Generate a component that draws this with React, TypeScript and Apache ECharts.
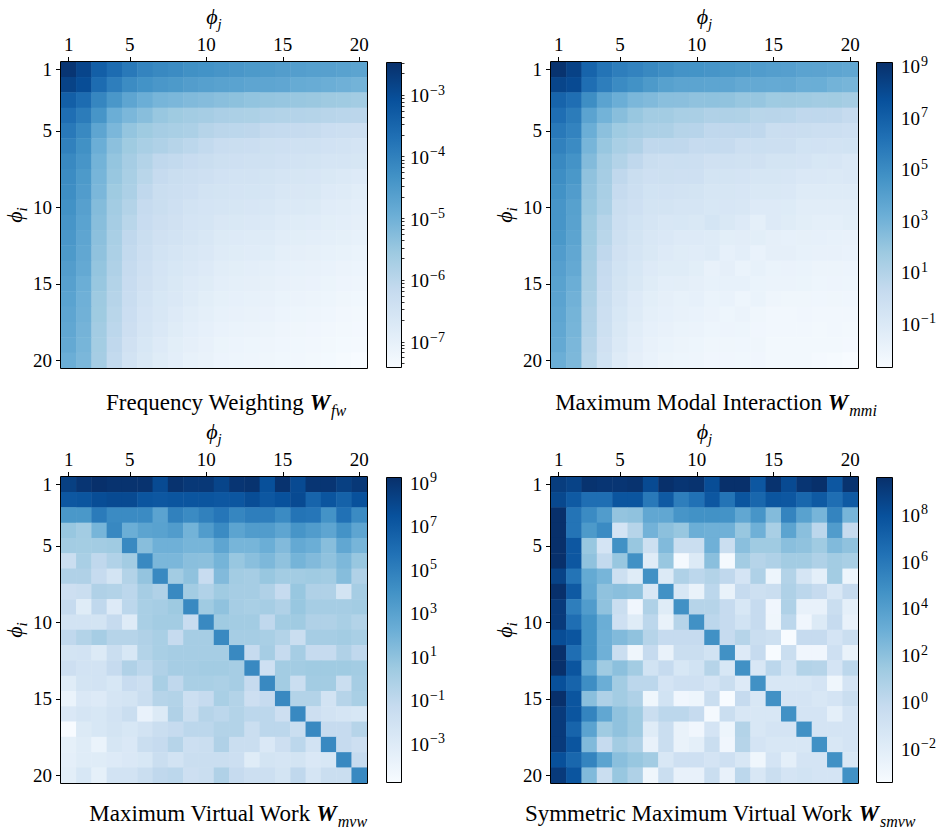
import React, { useEffect, useRef } from "react";
import * as echarts from "echarts";

// Mode indices (tick labels of both axes)
const modeLabels = ["1","2","3","4","5","6","7","8","9","10","11","12","13","14","15","16","17","18","19","20"];
const shownTickIdx = [0, 4, 9, 14, 19];

// log10 of the weights, row i (phi_i) by column j (phi_j)
const fwLog10 = [
  [-2.61,-2.91,-3.40,-3.65,-3.90,-4.10,-4.20,-4.25,-4.35,-4.39,-4.44,-4.49,-4.54,-4.57,-4.62,-4.64,-4.67,-4.69,-4.72,-4.77],
  [-2.86,-3.06,-3.65,-4.00,-4.25,-4.39,-4.49,-4.54,-4.62,-4.67,-4.72,-4.74,-4.79,-4.80,-4.82,-4.92,-4.94,-4.99,-5.04,-5.09],
  [-3.40,-3.65,-4.15,-4.49,-4.79,-4.99,-5.14,-5.19,-5.26,-5.31,-5.37,-5.40,-5.47,-5.50,-5.53,-5.55,-5.57,-5.62,-5.64,-5.68],
  [-3.70,-3.95,-4.44,-4.99,-5.19,-5.34,-5.54,-5.63,-5.68,-5.73,-5.81,-5.83,-5.85,-5.91,-5.93,-5.95,-5.97,-6.02,-6.04,-6.06],
  [-3.90,-4.20,-4.79,-5.19,-5.49,-5.63,-5.73,-5.78,-5.83,-5.98,-6.06,-6.08,-6.10,-6.20,-6.22,-6.24,-6.26,-6.36,-6.38,-6.40],
  [-4.05,-4.35,-4.99,-5.39,-5.63,-5.78,-5.88,-5.98,-6.08,-6.18,-6.31,-6.33,-6.35,-6.41,-6.43,-6.45,-6.47,-6.52,-6.54,-6.58],
  [-4.20,-4.44,-5.09,-5.49,-5.73,-5.93,-6.13,-6.18,-6.28,-6.33,-6.41,-6.43,-6.45,-6.47,-6.52,-6.54,-6.56,-6.61,-6.63,-6.65],
  [-4.25,-4.54,-5.14,-5.54,-5.78,-6.03,-6.23,-6.33,-6.38,-6.43,-6.51,-6.53,-6.55,-6.57,-6.62,-6.64,-6.66,-6.73,-6.78,-6.83],
  [-4.30,-4.59,-5.19,-5.63,-5.83,-6.13,-6.33,-6.38,-6.43,-6.53,-6.56,-6.58,-6.60,-6.62,-6.69,-6.71,-6.73,-6.82,-6.85,-6.92],
  [-4.37,-4.69,-5.29,-5.68,-5.93,-6.23,-6.33,-6.43,-6.53,-6.58,-6.63,-6.65,-6.67,-6.69,-6.76,-6.78,-6.80,-6.90,-6.93,-6.97],
  [-4.44,-4.74,-5.34,-5.73,-6.03,-6.28,-6.40,-6.48,-6.58,-6.63,-6.71,-6.73,-6.75,-6.77,-6.85,-6.87,-6.89,-6.95,-6.98,-7.02],
  [-4.49,-4.79,-5.39,-5.78,-6.13,-6.33,-6.48,-6.55,-6.63,-6.70,-6.80,-6.82,-6.84,-6.86,-6.93,-6.95,-6.97,-7.00,-7.03,-7.07],
  [-4.54,-4.84,-5.44,-5.83,-6.18,-6.38,-6.53,-6.63,-6.70,-6.75,-6.85,-6.87,-6.89,-6.91,-7.00,-7.02,-7.04,-7.08,-7.11,-7.15],
  [-4.62,-4.89,-5.49,-5.88,-6.23,-6.43,-6.58,-6.68,-6.75,-6.83,-6.93,-6.95,-6.97,-6.99,-7.05,-7.07,-7.09,-7.13,-7.16,-7.20],
  [-4.69,-4.99,-5.54,-5.93,-6.28,-6.48,-6.63,-6.73,-6.83,-6.87,-6.98,-7.00,-7.02,-7.04,-7.10,-7.12,-7.14,-7.18,-7.21,-7.25],
  [-4.74,-5.04,-5.61,-5.98,-6.30,-6.53,-6.68,-6.75,-6.85,-6.95,-7.03,-7.05,-7.07,-7.09,-7.15,-7.17,-7.19,-7.23,-7.26,-7.30],
  [-4.79,-5.06,-5.63,-6.03,-6.35,-6.58,-6.70,-6.83,-6.92,-7.00,-7.08,-7.10,-7.12,-7.14,-7.20,-7.22,-7.24,-7.28,-7.31,-7.35],
  [-4.84,-5.11,-5.68,-6.08,-6.40,-6.63,-6.75,-6.87,-6.97,-7.05,-7.13,-7.15,-7.17,-7.19,-7.25,-7.27,-7.29,-7.31,-7.34,-7.37],
  [-4.89,-5.14,-5.71,-6.13,-6.48,-6.68,-6.83,-6.95,-7.02,-7.10,-7.18,-7.20,-7.22,-7.24,-7.28,-7.30,-7.32,-7.35,-7.38,-7.40],
  [-4.99,-5.19,-5.73,-6.18,-6.53,-6.73,-6.87,-6.97,-7.07,-7.12,-7.20,-7.22,-7.24,-7.26,-7.30,-7.32,-7.34,-7.38,-7.42,-7.47],
];

const mmiLog10 = [
  [8.92,8.21,6.66,5.95,5.48,5.24,5.00,4.76,4.53,4.50,4.41,4.29,4.17,4.05,3.93,3.87,3.69,3.66,3.58,3.46],
  [8.09,7.85,6.19,5.48,4.88,4.59,4.17,3.81,3.63,3.63,3.60,3.58,3.34,3.36,3.30,3.34,3.10,3.12,2.86,2.74],
  [6.66,6.19,4.76,3.69,3.10,2.62,2.45,2.21,2.18,2.03,2.05,2.00,1.79,1.81,1.56,1.58,1.54,1.44,1.46,1.32],
  [6.19,5.59,3.69,2.86,2.27,1.79,1.44,1.42,1.20,1.18,0.96,0.98,0.94,0.61,0.63,0.59,0.37,0.39,0.35,0.13],
  [5.71,5.24,3.10,2.15,1.56,1.32,1.08,1.06,0.72,0.70,0.37,0.35,0.39,0.36,-0.11,-0.09,-0.13,-0.23,-0.25,-0.35],
  [5.36,4.88,2.74,1.79,1.20,0.96,0.37,0.39,0.35,0.13,0.15,0.11,-0.23,-0.21,-0.25,-0.23,-0.58,-0.56,-0.60,-0.58],
  [5.00,4.53,2.39,1.44,0.84,0.37,-0.11,-0.23,-0.21,-0.25,-0.46,-0.44,-0.48,-0.46,-0.70,-0.68,-0.72,-0.94,-0.92,-1.12],
  [4.76,4.29,2.03,1.32,0.37,-0.11,-0.35,-0.33,-0.37,-0.35,-0.70,-0.68,-0.72,-0.88,-0.86,-0.90,-1.12,-1.10,-1.14,-1.12],
  [4.59,4.05,1.91,1.20,0.13,-0.23,-0.58,-0.56,-0.60,-0.70,-0.88,-0.86,-0.90,-1.06,-1.04,-1.08,-1.35,-1.33,-1.37,-1.35],
  [4.41,3.81,1.79,1.08,-0.11,-0.35,-0.70,-0.68,-0.82,-0.80,-0.94,-0.92,-0.96,-1.30,-1.28,-1.32,-1.53,-1.51,-1.55,-1.53],
  [4.41,3.75,1.62,0.72,-0.23,-0.58,-0.82,-1.00,-0.94,-1.06,-0.76,-1.06,-1.30,-1.71,-1.30,-1.41,-1.59,-1.71,-1.71,-1.59],
  [4.29,3.63,1.56,0.61,-0.29,-0.70,-1.00,-1.12,-1.30,-1.28,-1.35,-1.59,-1.57,-1.61,-1.77,-1.83,-1.81,-1.85,-1.89,-1.95],
  [4.05,3.46,1.44,0.37,-0.46,-0.82,-1.06,-1.30,-1.41,-1.47,-1.35,-1.83,-1.65,-2.01,-1.77,-1.77,-1.89,-1.95,-1.95,-2.01],
  [3.87,3.34,1.32,0.13,-0.58,-0.94,-1.30,-1.41,-1.43,-1.59,-1.95,-1.77,-2.07,-1.89,-2.07,-2.05,-2.09,-2.19,-2.17,-2.21],
  [3.75,3.10,1.26,0.01,-0.70,-1.06,-1.41,-1.65,-1.63,-1.77,-1.89,-1.87,-1.91,-2.07,-2.13,-2.11,-2.15,-2.25,-2.23,-2.27],
  [3.69,2.92,1.08,-0.11,-0.82,-1.30,-1.59,-1.77,-1.89,-1.83,-2.07,-2.01,-2.25,-2.07,-2.31,-2.36,-2.34,-2.38,-2.36,-2.38],
  [3.58,2.80,0.96,-0.23,-0.94,-1.35,-1.71,-1.83,-1.95,-2.01,-2.13,-2.25,-2.13,-2.36,-2.48,-2.46,-2.42,-2.48,-2.50,-2.48],
  [3.46,2.74,0.90,-0.29,-1.06,-1.53,-1.83,-1.95,-2.07,-2.13,-2.25,-2.23,-2.27,-2.42,-2.48,-2.46,-2.50,-2.54,-2.48,-2.54],
  [3.34,2.62,0.72,-0.46,-1.18,-1.65,-1.95,-2.07,-2.19,-2.25,-2.36,-2.34,-2.38,-2.36,-2.54,-2.52,-2.56,-2.54,-2.52,-2.60],
  [3.10,2.57,0.61,-0.58,-1.35,-1.77,-2.01,-2.19,-2.25,-2.31,-2.42,-2.40,-2.44,-2.42,-2.54,-2.52,-2.56,-2.66,-2.72,-2.84],
];

const mvwLog10 = [
  [8.28,8.84,9.12,8.98,8.98,8.98,7.72,8.98,8.70,8.70,8.00,8.84,8.98,7.43,8.98,7.72,8.84,8.84,8.28,8.70],
  [7.01,7.15,7.57,7.72,7.72,7.15,7.01,7.15,7.15,7.15,7.01,7.08,7.57,7.01,7.36,7.72,6.31,7.15,6.45,7.36],
  [3.50,3.50,5.05,4.20,4.20,4.20,2.80,4.76,4.20,4.76,5.33,4.48,4.91,4.91,4.20,5.47,5.33,3.78,5.61,4.20],
  [0.55,0.13,1.67,4.40,2.10,2.73,2.87,3.22,1.81,3.22,4.20,2.73,3.22,3.22,2.66,3.64,3.22,2.66,3.78,2.66],
  [0.13,0.06,0.13,0.27,4.34,1.11,1.95,1.95,1.67,1.67,2.66,1.67,1.67,2.10,1.32,2.38,2.10,1.11,2.52,1.67],
  [-1.70,-0.15,-1.14,-0.50,0.13,4.34,1.53,1.53,1.04,0.97,1.74,0.55,1.04,1.46,0.83,1.74,1.32,0.83,1.46,0.55],
  [-0.43,-0.43,-1.42,-2.40,-0.57,0.69,4.34,0.13,0.83,-1.56,1.32,0.13,-0.01,0.55,0.13,0.13,0.27,0.13,1.18,-0.43],
  [-1.91,-1.70,-0.43,-0.57,-1.00,-0.01,-0.43,4.34,0.13,-0.50,0.27,-0.01,-0.01,-0.43,-1.42,0.55,-0.43,-0.43,-2.40,-0.01],
  [-1.42,-3.24,-1.14,-3.10,-1.00,-0.15,-0.01,0.34,4.34,0.27,0.83,-0.01,-0.15,-0.01,-0.43,0.55,-0.01,-0.01,-0.01,0.13],
  [-2.26,-2.26,-2.40,-1.42,-3.17,-0.15,0.13,0.13,-1.56,4.34,0.27,0.13,0.13,-1.14,0.13,0.27,-0.43,-0.43,-0.15,-0.57],
  [-1.14,-0.57,-0.01,-0.71,-0.71,-0.43,-0.15,-1.42,-0.01,-0.01,4.34,-0.01,-0.01,-0.15,-0.57,-1.70,-0.01,-0.01,0.13,-0.15],
  [-2.40,-2.26,-3.03,-1.70,-2.68,-0.57,-0.15,-0.01,-0.01,-0.01,-0.01,4.34,-1.42,-0.01,-1.42,-0.01,-1.42,-1.42,-0.43,-1.14],
  [-1.91,-2.26,-2.26,-1.42,-0.43,-1.00,-0.43,-0.01,-0.01,0.13,0.13,-0.01,4.34,-1.98,0.13,0.13,0.27,0.27,0.27,0.13],
  [-3.24,-2.40,-2.26,-2.68,-1.56,-1.84,-0.15,-1.14,-0.15,-0.15,-0.29,-0.01,-1.42,4.34,0.13,-1.70,0.13,0.13,-1.70,-0.01],
  [-4.02,-2.89,-3.10,-2.54,-2.40,-1.70,-0.71,-0.57,-1.84,-1.42,-0.15,-0.57,-1.91,-1.42,4.34,-0.57,-0.57,-2.26,-0.71,-0.15],
  [-2.89,-2.54,-2.68,-2.26,-1.70,-3.95,-3.03,-0.43,-1.70,-0.71,-1.00,-0.57,-1.00,-1.00,-1.91,4.34,-1.91,-2.26,-2.54,-2.68],
  [-4.93,-3.03,-2.68,-2.40,-2.68,-2.26,-1.70,-1.42,-1.00,-1.00,-0.57,-0.57,-1.70,-1.00,-1.00,-1.70,4.34,-1.42,-1.42,-0.71],
  [-3.67,-3.24,-4.02,-2.61,-2.89,-1.70,-1.42,-0.71,-1.84,-1.70,-0.43,-1.70,-1.70,-2.89,-1.91,-1.00,-2.26,4.34,-1.42,-1.91],
  [-3.60,-3.24,-3.24,-3.10,-2.89,-2.68,-1.70,-2.26,-1.70,-1.70,-1.70,-1.84,-3.24,-2.40,-2.54,-2.40,-2.89,-2.68,4.34,-1.42],
  [-3.45,-2.68,-3.67,-2.26,-2.26,-1.70,-1.14,-1.00,-1.91,-1.70,-0.43,-1.42,-1.84,-1.84,-2.40,-1.14,-2.54,-1.70,-1.70,4.34],
];

const smvwLog10 = [
  [8.84,8.57,9.36,9.23,9.23,9.36,8.18,9.49,9.23,9.36,8.05,9.49,9.49,7.53,9.36,8.18,9.23,9.49,7.53,9.36],
  [8.31,7.40,6.35,6.35,7.66,7.66,5.83,7.40,5.57,6.22,7.53,6.09,7.66,6.74,7.66,7.53,6.74,7.40,6.35,7.40],
  [9.49,6.09,4.91,3.99,1.64,1.77,3.34,3.34,4.39,4.59,4.59,4.52,3.34,4.39,2.17,5.30,3.67,2.56,5.30,2.56],
  [9.49,6.09,4.13,4.91,-1.24,0.33,2.69,1.90,1.51,2.95,2.82,2.82,1.51,2.82,0.86,3.54,1.97,0.07,3.99,-0.32],
  [9.49,7.53,1.51,-1.24,4.65,1.51,-0.78,2.23,-0.58,-0.58,2.82,-0.58,1.97,1.25,1.25,1.97,1.77,1.25,2.23,1.77],
  [9.49,7.53,1.77,-0.19,1.51,4.65,-2.02,1.51,-3.39,-1.82,1.97,-3.39,1.12,0.33,0.60,1.12,1.12,0.60,1.12,0.86],
  [8.57,6.09,3.21,2.56,-0.78,-2.02,4.65,-1.82,0.60,0.07,0.46,-0.06,-1.24,0.60,-2.94,0.46,-1.37,-2.35,1.12,-2.94],
  [9.49,7.40,3.34,1.77,1.97,1.77,-1.56,4.65,-1.50,-2.67,0.07,-2.67,-0.32,-0.78,-0.58,0.60,0.07,-0.32,-1.56,-0.32],
  [8.97,5.57,3.99,1.77,-0.58,-3.13,0.60,-2.02,4.65,0.33,0.33,-0.32,-1.50,-0.32,-3.13,0.60,-2.61,-2.61,-0.58,-2.35],
  [8.97,6.35,4.59,2.95,-0.84,-2.02,0.07,-2.67,0.33,4.65,0.07,-0.32,-1.10,-0.32,-3.07,0.07,-3.13,-1.82,-0.32,-2.61],
  [8.05,7.66,4.59,2.82,2.23,1.77,0.33,-0.32,-0.32,-0.32,4.65,-0.32,0.33,-0.58,-0.78,-3.59,-0.32,-0.32,-1.24,-0.58],
  [9.49,6.35,4.59,2.82,-0.58,-3.07,-0.32,-2.67,-0.58,-0.58,-1.10,4.65,-1.89,-0.32,-3.59,-0.58,-3.13,-3.13,-0.84,-2.67],
  [9.49,7.66,3.34,1.25,1.90,1.12,-1.10,-0.32,-1.50,-1.10,0.33,-1.50,4.65,-1.56,0.07,-1.10,0.46,0.33,-1.24,0.07],
  [7.92,6.87,4.78,2.95,1.12,0.07,0.07,-1.24,-0.84,-0.84,-1.24,-0.58,-1.89,4.65,-1.56,-1.56,-1.56,-1.24,-3.07,-1.24],
  [9.49,7.66,1.97,0.60,1.12,0.60,-3.07,-1.10,-3.13,-2.94,-0.58,-3.59,-0.32,-1.56,4.65,-1.24,-1.24,-1.56,-1.24,-0.58],
  [8.97,7.66,5.30,3.34,1.77,1.25,-0.58,0.07,0.07,-0.32,-3.39,-0.58,-1.56,-1.56,-1.56,4.65,-1.24,-1.24,-2.35,-1.24],
  [8.97,6.87,3.60,1.25,1.77,1.25,-2.02,-0.58,-2.67,-3.13,-1.24,-2.94,0.46,-1.56,-1.24,-1.24,4.65,-1.24,-1.24,-1.24],
  [8.97,7.66,2.23,-0.32,1.12,0.60,-2.61,-0.58,-2.67,-2.35,-0.58,-3.13,0.33,-1.24,-1.56,-1.56,-1.56,4.65,-1.56,-1.24],
  [7.92,6.74,5.30,3.54,1.97,1.51,1.12,-1.56,-0.84,-0.84,-1.24,-0.84,-1.56,-3.07,-1.24,-2.35,-1.24,-1.24,4.65,-1.56],
  [8.97,7.66,2.23,-0.58,1.51,0.60,-3.07,-0.58,-2.61,-2.61,-0.58,-2.61,0.07,-1.56,-0.58,-1.24,-1.10,-1.24,-1.24,4.65],
];

// Colour-scale limits (log10) and colour-bar tick exponents
const fwRange = [-7.47, -2.51];
const mmiRange = [-2.84, 9.04];
const mvwRange = [-4.93, 9.12];
const smvwRange = [-3.59, 9.49];
const fwTicks = [-7, -6, -5, -4, -3];
const mmiTicks = [-1, 1, 3, 5, 7, 9];
const mvwTicks = [-3, -1, 1, 3, 5, 7, 9];
const smvwTicks = [-2, 0, 2, 4, 6, 8];

const titleMain = ["Frequency Weighting ", "Maximum Modal Interaction ", "Maximum Virtual Work ", "Symmetric Maximum Virtual Work "];
const titleSub = ["fw", "mmi", "mvw", "smvw"];

const BLUES = ["#f7fbff", "#deebf7", "#c6dbef", "#9ecae1", "#6baed6", "#4292c6", "#2171b5", "#08519c", "#08306b"];
const FONT = "'Liberation Serif', 'DejaVu Serif', serif";

export default function App() {
  const ref = useRef<HTMLDivElement>(null);

  useEffect(() => {
    if (!ref.current) return;
    const chart = echarts.init(ref.current, undefined, { renderer: "svg" });

    const matrices = [fwLog10, mmiLog10, mvwLog10, smvwLog10];
    const ranges = [fwRange, mmiRange, mvwRange, smvwRange];
    const ticks = [fwTicks, mmiTicks, mvwTicks, smvwTicks];
    const layout = [
      { left: 61, top: 62, w: 306, cb: 386, cbw: 16, tx: 226, ty: 403 },
      { left: 551, top: 62, w: 307, cb: 876, cbw: 17, tx: 716, ty: 403 },
      { left: 61, top: 477, w: 306, cb: 386, cbw: 16, tx: 228, ty: 814 },
      { left: 551, top: 477, w: 307, cb: 876, cbw: 17, tx: 720, ty: 814 },
    ];
    const H = 306;

    const grid: any[] = [];
    const xAxis: any[] = [];
    const yAxis: any[] = [];
    const series: any[] = [];
    const visualMap: any[] = [];
    const graphic: any[] = [];

    const showIdx = (i: number) => shownTickIdx.indexOf(i) >= 0;
    const supFmt = (v: number) => {
      const e = Math.round(v);
      return `{b|10}{s|${e < 0 ? "\u2212" : ""}${Math.abs(e)}}`;
    };
    const supRich = {
      b: { fontFamily: FONT, fontSize: 19, color: "#000", verticalAlign: "bottom", lineHeight: 26 },
      s: { fontFamily: FONT, fontSize: 14, color: "#000", verticalAlign: "bottom", lineHeight: 26, padding: [0, 0, 8, 1] },
    };
    const nameRich = {
      p: { fontFamily: FONT, fontStyle: "italic", fontSize: 22, color: "#000", verticalAlign: "bottom", lineHeight: 26, padding: [0, 0, 4, 0] },
      s: { fontFamily: FONT, fontStyle: "italic", fontSize: 15, color: "#000", verticalAlign: "bottom", lineHeight: 26 },
    };

    layout.forEach((L, p) => {
      // heatmap grid
      grid.push({ left: L.left, top: L.top, width: L.w, height: H, containLabel: false });
      const gi = grid.length - 1;
      xAxis.push({
        type: "category", gridIndex: gi, position: "top", data: modeLabels,
        axisLine: { show: false },
        axisTick: { show: true, alignWithLabel: true, interval: (i: number) => showIdx(i), length: 5, lineStyle: { color: "#000", width: 1 } },
        axisLabel: { interval: (i: number) => showIdx(i), margin: 8, fontFamily: FONT, fontSize: 19, color: "#000" },
        splitLine: { show: false },
        name: "{p|\u03D5}{s|j}", nameLocation: "middle", nameGap: 31,
        nameTextStyle: { rich: nameRich },
      });
      yAxis.push({
        type: "category", gridIndex: gi, position: "left", inverse: true, data: modeLabels,
        axisLine: { show: false },
        axisTick: { show: true, alignWithLabel: true, interval: (i: number) => showIdx(i), length: 5, lineStyle: { color: "#000", width: 1 } },
        axisLabel: { interval: (i: number) => showIdx(i), margin: 9, fontFamily: FONT, fontSize: 19, color: "#000" },
        splitLine: { show: false },
        name: "{p|\u03D5}{s|i}", nameLocation: "middle", nameGap: 30, nameRotate: 90,
        nameTextStyle: { rich: nameRich },
      });
      const data: number[][] = [];
      matrices[p].forEach((row, i) => row.forEach((v, j) => data.push([j, i, v])));
      series.push({
        type: "heatmap", xAxisIndex: xAxis.length - 1, yAxisIndex: yAxis.length - 1,
        data, silent: true, itemStyle: { borderWidth: 0 }, emphasis: { disabled: true },
      });
      visualMap.push({
        type: "continuous", show: false, seriesIndex: series.length - 1, dimension: 2,
        min: ranges[p][0], max: ranges[p][1], inRange: { color: BLUES },
      });

      // colour-bar grid with log10 axis
      grid.push({ left: L.cb, top: L.top, width: L.cbw, height: H, containLabel: false });
      const ci = grid.length - 1;
      xAxis.push({ type: "value", gridIndex: ci, show: false, min: 0, max: 1 });
      yAxis.push({
        type: "value", gridIndex: ci, position: "right", min: ranges[p][0], max: ranges[p][1],
        axisLine: { show: false }, splitLine: { show: false },
        axisTick: { show: true, customValues: ticks[p], length: 5, lineStyle: { color: "#000", width: 1 } },
        axisLabel: { customValues: ticks[p], margin: 8, formatter: supFmt, rich: supRich },
      });
      if (p === 0) {
        const minor: number[] = [];
        for (let e = -8; e <= -3; e++) {
          for (let k = 2; k <= 9; k++) {
            const v = e + Math.log10(k);
            if (v > ranges[p][0] && v < ranges[p][1]) minor.push(v);
          }
        }
        yAxis.push({
          type: "value", gridIndex: ci, position: "right", min: ranges[p][0], max: ranges[p][1],
          axisLine: { show: false }, splitLine: { show: false },
          axisTick: { show: true, customValues: minor, length: 2.5, lineStyle: { color: "#000", width: 0.8 } },
          axisLabel: { show: false },
        });
      }
      graphic.push({
        type: "rect", z: 50, silent: true,
        shape: { x: L.cb + 0.5, y: L.top + 0.5, width: L.cbw - 1, height: H - 1 },
        style: {
          fill: new echarts.graphic.LinearGradient(0, 1, 0, 0, BLUES.map((c, k) => ({ offset: k / (BLUES.length - 1), color: c }))),
          stroke: "#000", lineWidth: 1,
        },
      });
      graphic.push({
        type: "rect", z: 50, silent: true,
        shape: { x: L.left - 0.5, y: L.top - 0.5, width: L.w + 1, height: H + 1 },
        style: { fill: "none", stroke: "#000", lineWidth: 1 },
      });
      graphic.push({
        type: "text", z: 50, silent: true, x: L.tx, y: L.ty,
        style: {
          text: `{n|${titleMain[p]}}{w|W}{s|${titleSub[p]}}`,
          align: "center", verticalAlign: "middle",
          rich: {
            n: { fontFamily: FONT, fontSize: 23, fill: "#000", verticalAlign: "bottom", lineHeight: 30, padding: [0, 0, 4, 0] },
            w: { fontFamily: FONT, fontSize: 23, fontWeight: "bold", fontStyle: "italic", fill: "#000", verticalAlign: "bottom", lineHeight: 30, padding: [0, 0, 4, 0] },
            s: { fontFamily: FONT, fontSize: 16, fontStyle: "italic", fill: "#000", verticalAlign: "bottom", lineHeight: 30, padding: [0, 0, 0, 1] },
          },
        },
      });
    });

    chart.setOption({
      animation: false,
      backgroundColor: "#fff",
      textStyle: { fontFamily: FONT },
      grid, xAxis, yAxis, series, visualMap, graphic,
    });

    return () => chart.dispose();
  }, []);

  return (
    <div style={{ position: "absolute", left: 0, top: 0, width: 949, height: 833, background: "#fff" }}>
      <div ref={ref} style={{ width: 949, height: 833 }} />
    </div>
  );
}
